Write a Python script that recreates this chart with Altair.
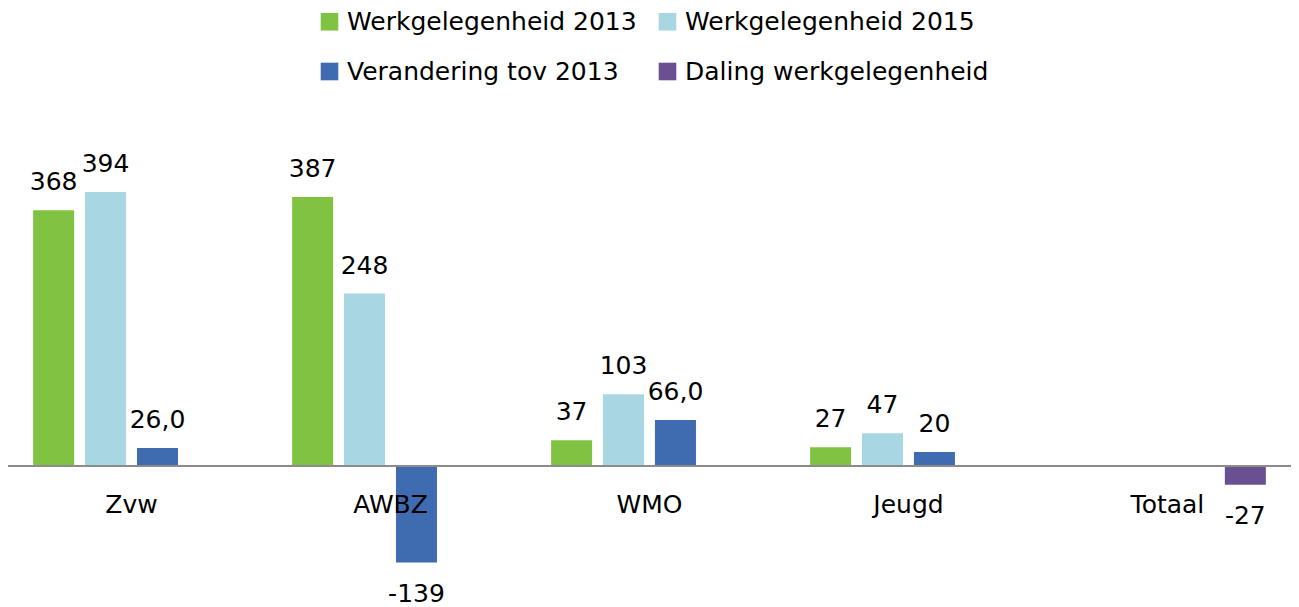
import altair as alt
import pandas as pd

categories = ["Zvw", "AWBZ", "WMO", "Jeugd", "Totaal"]
series = ["Werkgelegenheid 2013", "Werkgelegenheid 2015",
          "Verandering tov 2013", "Daling werkgelegenheid"]
colors = ["#80C342", "#A8D6E2", "#3F6CB0", "#6A4F93"]

werk_2013 = [368, 387, 37, 27, None]
werk_2015 = [394, 248, 103, 47, None]
verandering = [26.0, -139, 66.0, 20, None]
daling = [None, None, None, None, -27]

werk_2013_labels = ["368", "387", "37", "27", None]
werk_2015_labels = ["394", "248", "103", "47", None]
verandering_labels = ["26,0", "-139", "66,0", "20", None]
daling_labels = [None, None, None, None, "-27"]

rows = []
for s, vals, labs in zip(series,
                         [werk_2013, werk_2015, verandering, daling],
                         [werk_2013_labels, werk_2015_labels, verandering_labels, daling_labels]):
    for c, v, l in zip(categories, vals, labs):
        if v is not None:
            rows.append({"cat": c, "serie": s, "value": v, "label": l,
                         "pos": 1 if v >= 0 else 0})
df = pd.DataFrame(rows)
cat_df = pd.DataFrame({"cat": categories, "zero": [0] * len(categories)})

# legend is laid out column by column: order entries so rows read as in the reference
legend_order = [series[0], series[2], series[1], series[3]]
legend_colors = [colors[0], colors[2], colors[1], colors[3]]

FONT = "DejaVu Sans"

x_enc = alt.X("cat:N", sort=categories, axis=None,
              scale=alt.Scale(paddingInner=0.2, paddingOuter=0.077))
xoff_enc = alt.XOffset("serie:N", sort=series,
                       scale=alt.Scale(paddingInner=0.21, paddingOuter=0.1))
yscale = alt.Scale(domain=[-200, 420], nice=False, zero=False)
y_enc = alt.Y("value:Q", axis=None, scale=yscale)

base = alt.Chart(df)

bars = base.mark_bar().encode(
    x=x_enc,
    xOffset=xoff_enc,
    y=y_enc,
    y2=alt.datum(0),
    color=alt.Color("serie:N", sort=legend_order,
                    scale=alt.Scale(domain=legend_order, range=legend_colors),
                    legend=alt.Legend(
                        orient="none", legendX=309, legendY=-165,
                        columns=2, title=None,
                        symbolType="square", symbolSize=310,
                        symbolStrokeWidth=0, symbolOpacity=1,
                        labelFont=FONT, labelFontSize=25, labelColor="#000000",
                        labelLimit=500, labelOffset=5,
                        rowPadding=24, columnPadding=18)),
)

pos_labels = base.transform_filter("datum.pos == 1").mark_text(
    baseline="alphabetic", dy=-20, font=FONT, fontSize=25, color="#000000"
).encode(x=x_enc, xOffset=xoff_enc, y=y_enc, text="label:N")

neg_labels = base.transform_filter("datum.pos == 0").mark_text(
    baseline="alphabetic", dy=39, font=FONT, fontSize=25, color="#000000"
).encode(x=x_enc, xOffset=xoff_enc, y=y_enc, text="label:N")

zero_line = alt.Chart(cat_df).mark_rule(color="#8C8C8C", strokeWidth=1.5).encode(
    y=alt.Y("zero:Q", axis=None, scale=yscale)
)

cat_labels = alt.Chart(cat_df).mark_text(
    baseline="alphabetic", dy=47, font=FONT, fontSize=25, color="#000000"
).encode(x=x_enc, y=alt.Y("zero:Q", axis=None, scale=yscale), text="cat:N")

chart = alt.layer(bars, zero_line, pos_labels, neg_labels, cat_labels).properties(
    width=1283, height=431,
    padding={"left": 0, "right": 0, "top": 166, "bottom": 6},
    autosize=alt.AutoSizeParams(type="none"),
).configure_view(stroke=None)

chart.save("out.html", embed_options={"renderer": "svg", "actions": False})
